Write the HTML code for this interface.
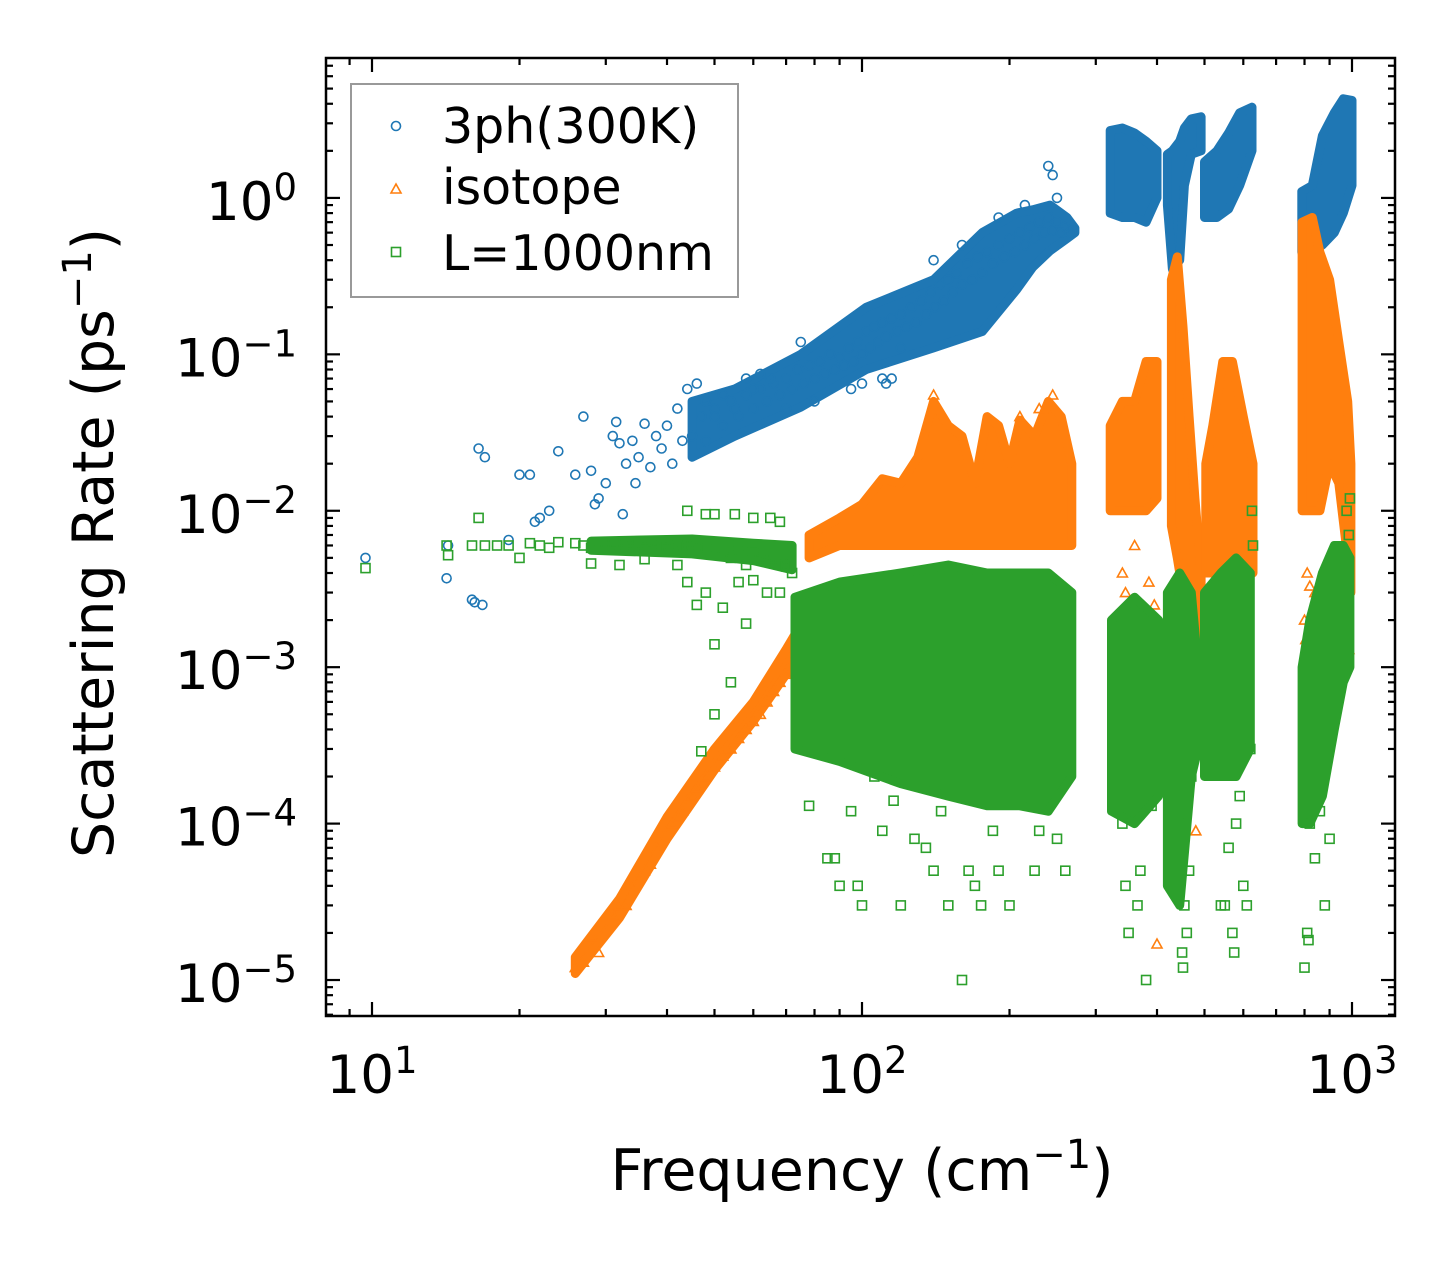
<!DOCTYPE html>
<html><head><meta charset="utf-8"><style>
html,body{margin:0;padding:0;background:#fff;}
svg{display:block;font-family:"DejaVu Sans","Liberation Sans",sans-serif;}
</style></head><body>
<svg id="chart" width="1456" height="1265" viewBox="0 0 1456 1265" xmlns="http://www.w3.org/2000/svg">
<rect width="1456" height="1265" fill="#fff"/>
<g id="marks"></g>
<g id="axes"></g>
<g id="legend">
 <rect x="351" y="84" width="387" height="213" fill="#fff" fill-opacity="0.8" stroke="#999" stroke-width="2"/>
 <g>
  <circle cx="396" cy="126" r="4.5" fill="none" stroke="#1f77b4" stroke-width="1.6"/>
  <text x="442" y="143" font-size="49">3ph(300K)</text>
 </g>
 <g>
  <path d="M396,184 L401,193 L391,193 Z" fill="none" stroke="#ff7f0e" stroke-width="1.6"/>
  <text x="442" y="204" font-size="49">isotope</text>
 </g>
 <g>
  <rect x="391.5" y="247.5" width="9" height="9" fill="none" stroke="#2ca02c" stroke-width="1.6"/>
  <text x="442" y="270" font-size="49">L=1000nm</text>
 </g>
</g>
<text x="862" y="1190" font-size="57" text-anchor="middle">Frequency (cm<tspan dy="-22" font-size="40">−1</tspan><tspan dy="22">)</tspan></text>
<text transform="translate(113,543) rotate(-90)" font-size="57" text-anchor="middle">Scattering Rate (ps<tspan dy="-22" font-size="40">−1</tspan><tspan dy="22">)</tspan></text>
</svg>
<script>
// Scatter points [frequency cm^-1, rate ps^-1]
const blue3ph = [
[9.7,.005],[14.2,.0037],[14.3,.006],[16,.0027],[16.2,.0026],[16.8,.0025],[16.5,.025],[17,.022],[19,.0065],[20,.017],[21,.017],[21.5,.0085],[22,.009],[23,.01],[24,.024],[26,.017],[27,.04],[28,.018],[28.5,.011],[29,.012],[30,.015],[31,.03],[31.5,.037],[32,.027],[32.5,.0095],[33,.02],[34,.028],[34.5,.015],[35,.022],[36,.036],[37,.019],[38,.03],[39,.025],[40,.035],[41,.02],[42,.045],[43,.028],[44,.06],[46,.065],[48,.05],[50,.04],[52,.055],[55,.045],[58,.07],[60,.06],[65,.07],
[45,.03],[47,.04],[48,.028],[50,.045],[52,.035],[54,.05],[56,.04],[58,.055],[60,.045],[62,.06],[64,.05],[66,.065],[68,.055],[70,.07],[72,.06],[74,.08],[76,.065],[78,.085],[80,.07],[82,.09],[84,.075],[86,.1],[88,.08],[90,.095],[92,.085],[94,.11],[96,.09],[98,.12],[100,.1],[102,.14],[104,.11],[106,.15],[108,.12],[110,.16],[112,.13],[115,.17],[118,.14],[120,.18],[123,.15],[126,.2],[129,.16],[132,.22],[135,.18],[138,.25],[141,.2],[144,.28],[147,.22],[150,.3],[153,.25],[156,.33],[160,.28],[164,.38],[168,.3],[172,.42],[176,.33],[180,.45],[185,.38],[190,.5],[195,.42],[200,.55],[205,.45],[210,.6],[215,.5],[220,.65],[225,.55],[230,.7],[235,.6],[240,.75],[245,.62],[250,.7],[255,.6],[260,.65],[265,.6],[270,.62],
[100,.065],[110,.07],[120,.11],[240,1.6],[245,1.4],[250,1.0],[215,.9],[190,.75],[160,.5],[140,.4],[95,.06],[80,.05],[70,.045],[75,.12],[62,.075],[112,.065],[115,.07]
];
const orangeIsotope = [
[26,1.2e-5],[27,1.3e-5],[28,1.9e-5],[29,1.5e-5],[31,2.6e-5],[32,3e-5],[33,3e-5],[34,4e-5],[35,4.5e-5],[36,5e-5],[37,5.5e-5],[38,7e-5],[40,9e-5],[41,1e-4],[42,1.1e-4],[43,1.2e-4],[44,1.4e-4],[45,1.5e-4],[46,1.7e-4],[48,2e-4],[50,2.3e-4],[52,2.7e-4],[54,3e-4],[56,3.5e-4],[58,4e-4],[60,4.5e-4],[62,5e-4],[64,6e-4],[66,7e-4],[68,8e-4],[70,9e-4],[72,1.1e-3],[74,1.3e-3],[76,1.5e-3],
[140,.055],[245,.055],[230,.045],[210,.04],
[330,.002],[335,.0015],[340,.004],[345,.003],[360,.006],[385,.0035],[395,.0025],[400,1.7e-5],
[480,9e-5],[490,.0009],[560,.003],[800,.002],[805,.0015],[810,.004],[820,.0033],[840,.003],[890,.002],[985,.0013]
];
const greenBoundary = [
[9.7,.0043],[14.2,.006],[14.3,.0052],[16,.006],[16.5,.009],[17,.006],[18,.006],[19,.006],[20,.005],[21,.0062],[22,.006],[23,.0058],[24,.0063],[26,.0062],[27,.006],[28,.0058],[30,.006],[31,.0062],[32,.0061],[33,.006],[34,.0059],[35,.006],[36,.0058],[37,.0062],[38,.0063],[39,.006],[40,.0058],[42,.006],[43,.0055],[44,.0059],[45,.0062],[46,.006],[48,.0057],[50,.0095],[52,.0055],[54,.005],[56,.006],[58,.0045],[60,.0055],[62,.005],[64,.0048],[66,.005],[68,.0046],[70,.0044],[72,.004],[42,.0045],[44,.0035],[46,.0025],[48,.003],[50,.0014],[52,.0024],[54,.0008],[56,.0035],[60,.0036],[64,.003],[68,.003],[70,.0045],[28,.0046],[32,.0045],[36,.0049],[55,.0095],[60,.009],[65,.009],[44,.01],[48,.0095],[68,.0085],[47,.00029],[50,.0005],[58,.0019],
[78,.00013],[85,.00006],[90,.00004],[95,.00012],[100,.00003],[106,.0002],[110,.00009],[116,.00014],[120,.00003],[128,.00008],[140,.00005],[145,.00012],[150,.00003],[160,.00001],[165,.00005],[175,.00003],[185,.00009],[200,.00003],[225,.00005],[260,.00005],[88,.00006],[98,.00004],[135,.00007],[170,.00004],[190,.00005],[230,.00009],[250,.00008],
[335,.0003],[340,.0001],[350,.00002],[360,.00015],[370,.00005],[380,.00001],[390,.00013],[345,.00004],[365,.00003],
[448,.0001],[455,.00003],[460,.00002],[465,.00005],[470,.0002],[450,.000015],[452,.000012],
[550,.00003],[560,.00007],[570,.00002],[580,.0001],[590,.00015],[600,.00004],[610,.00003],[620,.0003],[625,.01],[628,.006],[540,.00003],[575,.000015],
[810,.00002],[820,.0001],[840,.00006],[860,.00012],[880,.00003],[900,.00008],[800,.000012],[815,.000018],[990,.012],[985,.007],[975,.01]
];
// Dense-region envelopes [frequency, lower rate, upper rate]
const blueBand = [[45,.022,.05],[55,.03,.06],[75,.046,.1],[102,.08,.2],[140,.11,.3],[176,.14,.6],[207,.26,.8],[223,.36,.84],[242,.46,.9],[262,.55,.75],[272,.6,.64]];
const blueC1 = [[321,.8,2.7],[340,.75,2.8],[360,.75,2.6],[380,.7,2.3],[400,1.0,2.0]];
const blueC2 = [[420,.9,1.9],[430,.35,2.0],[445,.4,2.3],[455,1.2,2.8],[470,1.9,3.2],[492,2.0,3.3]];
const blueC3 = [[500,.75,1.7],[530,.75,2.0],[560,.85,2.6],[590,1.2,3.5],[625,2.0,3.8]];
const blueC4 = [[790,.45,1.1],[830,.45,1.2],[870,.5,2.5],[920,.6,3.5],[960,.8,4.3],[1000,1.2,4.2]];
const orangeLow = [[26,1.1e-5,1.4e-5],[32,2.5e-5,3.3e-5],[40,8e-5,1.1e-4],[50,2.2e-4,3e-4],[60,4.5e-4,6e-4],[70,9e-4,1.3e-3],[78,1.6e-3,2.3e-3]];
const orangeBand = [[78,.005,.007],[90,.006,.009],[100,.006,.011],[110,.006,.016],[120,.006,.015],[130,.006,.022],[140,.006,.05],[150,.006,.035],[160,.006,.03],[170,.006,.015],[180,.006,.04],[190,.006,.035],[200,.006,.02],[210,.006,.038],[225,.006,.03],[240,.006,.05],[255,.006,.04],[268,.006,.02]];
const orangeC1 = [[321,.01,.035],[340,.01,.05],[360,.01,.05],[380,.01,.09],[400,.012,.09]];
const orangeC2 = [[428,.008,.3],[440,.005,.42],[452,.003,.15],[465,.002,.04],[478,.0012,.012],[492,.0008,.004]];
const orangeC3 = [[503,.004,.02],[520,.004,.035],[545,.004,.09],[570,.004,.09],[600,.004,.04],[628,.004,.02]];
const orangeC4 = [[791,.01,.7],[830,.01,.75],[860,.01,.45],[900,.02,.3],[940,.015,.12],[980,.005,.05],[995,.003,.02]];
const greenFlat = [[28,.0056,.0064],[45,.0053,.0066],[60,.0048,.0062],[72,.0042,.006]];
const greenBand = [[73,.0003,.0028],[90,.00025,.0035],[120,.00018,.004],[150,.00015,.0045],[180,.00013,.004],[210,.00013,.004],[240,.00012,.004],[268,.0002,.003]];
const greenC1 = [[323,.00012,.002],[360,.0001,.0028],[403,.00015,.002]];
const greenC2 = [[420,.00004,.003],[445,.00003,.004],[470,.0002,.003],[485,.0003,.001]];
const greenC3 = [[500,.0002,.003],[540,.0002,.004],[580,.0002,.005],[620,.0003,.004]];
const greenC4 = [[791,.0001,.001],[820,.0001,.002],[870,.00015,.004],[920,.0004,.006],[960,.0008,.006],[990,.001,.005]];
const xTickExps = [1,2,3];
const yTickExps = [0,-1,-2,-3,-4,-5];

const NS = "http://www.w3.org/2000/svg";
const L = 326, R = 1395, T = 58, B = 1016;
const xMinLog = 1 - 46/490, xMaxLog = 3 + 43/490;
const yMaxLog = 140/156.5, yMinLog = -5 - 36/156.5;
function xs(v){ return L + (Math.log10(v) - xMinLog) / (xMaxLog - xMinLog) * (R - L); }
function ys(v){ return T + (yMaxLog - Math.log10(v)) / (yMaxLog - yMinLog) * (B - T); }
function mk(tag, attrs, parent){ const e = document.createElementNS(NS, tag); for (const k in attrs) e.setAttribute(k, attrs[k]); parent.appendChild(e); return e; }
function band(arr, color, parent, name){
  const up = arr.map(p => xs(p[0]).toFixed(1)+','+ys(p[2]).toFixed(1));
  const lo = arr.slice().reverse().map(p => xs(p[0]).toFixed(1)+','+ys(p[1]).toFixed(1));
  const poly = mk('polygon', {points: up.concat(lo).join(' '), fill: color, stroke: color, 'stroke-width': 9, 'stroke-linejoin':'round'}, parent);
  
  
}
const marks = document.getElementById('marks');

const gB = mk('g', {fill:'none', stroke:'#1f77b4', 'stroke-width':1.6}, marks);


[blueBand, blueC1, blueC2, blueC3, blueC4].forEach(a => band(a, '#1f77b4', gB, 'dense-region-3ph'));
blue3ph.forEach(p => {
  const c = mk('circle', {cx:xs(p[0]).toFixed(1), cy:ys(p[1]).toFixed(1), r:4.5}, gB);
  
  
});

const gO = mk('g', {fill:'none', stroke:'#ff7f0e', 'stroke-width':1.6}, marks);


[orangeLow, orangeBand, orangeC1, orangeC2, orangeC3, orangeC4].forEach(a => band(a, '#ff7f0e', gO, 'dense-region-isotope'));
orangeIsotope.forEach(p => {
  const x = xs(p[0]), y = ys(p[1]);
  const t = mk('path', {d:`M${x.toFixed(1)},${(y-5).toFixed(1)} L${(x+5).toFixed(1)},${(y+4).toFixed(1)} L${(x-5).toFixed(1)},${(y+4).toFixed(1)} Z`}, gO);
  
  
});

const gG = mk('g', {fill:'none', stroke:'#2ca02c', 'stroke-width':1.6}, marks);


[greenFlat, greenBand, greenC1, greenC2, greenC3, greenC4].forEach(a => band(a, '#2ca02c', gG, 'dense-region-boundary'));
greenBoundary.forEach(p => {
  const s = mk('rect', {x:(xs(p[0])-4.5).toFixed(1), y:(ys(p[1])-4.5).toFixed(1), width:9, height:9}, gG);
  
  
});

const axes = document.getElementById('axes');
const frame = mk('rect', {x:L, y:T, width:R-L, height:B-T, fill:'none', stroke:'#000', 'stroke-width':2.5}, axes);


const tickG = mk('g', {stroke:'#000', 'stroke-width':2.2}, axes);
for (let e = 0; e <= 3; e++) {
  for (let m = 1; m <= 9; m++) {
    const x = xs(m * Math.pow(10, e));
    if (x < L || x > R) continue;
    const len = m === 1 ? 14 : 7;
    mk('line', {x1:x, y1:B, x2:x, y2:B-len}, tickG);
    mk('line', {x1:x, y1:T, x2:x, y2:T+len}, tickG);
  }
}
xTickExps.forEach(e => {
  const t = mk('text', {x:xs(Math.pow(10,e)), y:1093, 'font-size':53, 'text-anchor':'middle'}, axes);
  
  
  t.innerHTML = `10<tspan dy="-20" font-size="37">${e}</tspan>`;
});
for (let e = -6; e <= 1; e++) {
  for (let m = 1; m <= 9; m++) {
    const y = ys(m * Math.pow(10, e));
    if (y < T || y > B) continue;
    const len = m === 1 ? 14 : 7;
    mk('line', {x1:L, y1:y, x2:L+len, y2:y}, tickG);
    mk('line', {x1:R, y1:y, x2:R-len, y2:y}, tickG);
  }
}
yTickExps.forEach(e => {
  const t = mk('text', {x:297, y:ys(Math.pow(10,e))+22, 'font-size':53, 'text-anchor':'end'}, axes);
  
  
  t.innerHTML = `10<tspan dy="-20" font-size="37">${e < 0 ? '−' + (-e) : e}</tspan>`;
});
</script>
</body></html>
